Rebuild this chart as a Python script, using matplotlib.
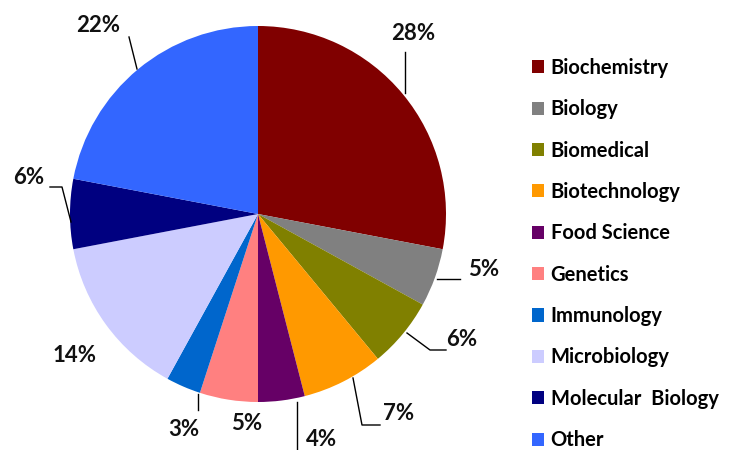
import matplotlib.pyplot as plt
import numpy as np

# --- datos ---
categorias = ["Biochemistry", "Biology", "Biomedical", "Biotechnology", "Food Science",
              "Genetics", "Immunology", "Microbiology", "Molecular  Biology", "Other"]
porcentajes = [28, 5, 6, 7, 4, 5, 3, 14, 6, 22]
colores = ["#800000", "#808080", "#808000", "#FF9900", "#660066",
           "#FF8080", "#0066CC", "#CCCCFF", "#000080", "#3366FF"]

# --- lienzo en píxeles (y hacia abajo) ---
W, H = 730, 450
fig = plt.figure(figsize=(W / 100, H / 100), dpi=100)
ax = fig.add_axes([0, 0, 1, 1])

CENTRO = (258, 214)
RADIO = 188

wedges, _ = ax.pie(porcentajes, colors=colores, startangle=-90, counterclock=True,
                   center=CENTRO, radius=RADIO, wedgeprops=dict(linewidth=0))
ax.set_xlim(0, W)
ax.set_ylim(H, 0)
ax.axis("off")

# posiciones de las etiquetas y líneas guía (px)
pos_etiquetas = [(413, 33), (484, 269), (462, 340), (399, 413), (322, 440),
                 (247, 424), (184, 429), (75, 355), (29, 178), (98, 25)]
guias = [
    [(405, 93), (405, 52)],
    [(437, 279), (460, 279)],
    [(407, 333), (430, 350), (446, 350)],
    [(353, 378), (362, 425), (380, 425)],
    [(297, 402), (297, 452)],
    None,
    [(198, 394), (198, 410)],
    None,
    [(71, 222), (62, 187), (50, 187)],
    [(137, 69), (129, 37)],
]

for p, (x, y), g in zip(porcentajes, pos_etiquetas, guias):
    ax.text(x, y, f"{p}%", fontsize=16, fontweight="bold", family="Lato",
            ha="center", va="center", color="#111111")
    if g:
        gx, gy = zip(*g)
        ax.plot(gx, gy, color="black", lw=1)

fig.legend(wedges, categorias, loc="upper left", bbox_to_anchor=(532 / W, 1 - 58 / H),
           frameon=False, prop=dict(family="Lato", weight="bold", size=14.5),
           handlelength=0.62, handleheight=0.62, handletextpad=0.3,
           labelspacing=1.06, borderpad=0, borderaxespad=0)

fig.savefig("out.png", dpi=100)
